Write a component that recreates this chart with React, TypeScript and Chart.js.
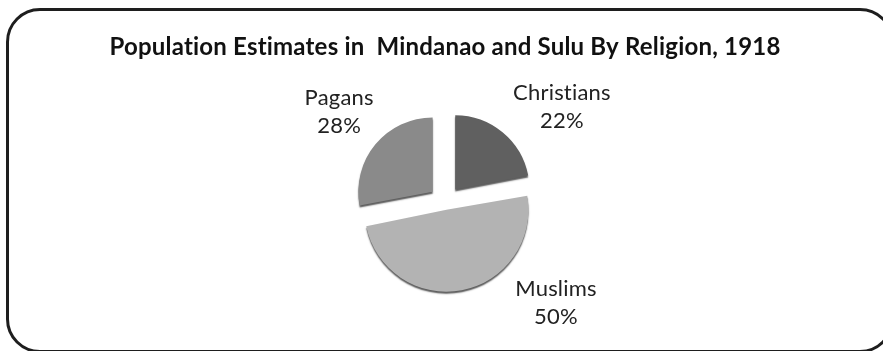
import React, { useEffect, useRef } from "react";
import { Chart, registerables } from "chart.js";

Chart.register(...registerables);

const TITLE = "Population Estimates in  Mindanao and Sulu By Religion, 1918";
const categories = ["Christians", "Muslims", "Pagans"];
const values = [22, 50, 28];
const percentLabels = ["22%", "50%", "28%"];
const sliceColors = ["#606060", "#b3b3b3", "#8a8a8a"];
// label anchor offsets, in units of the pie radius, from the pie centre
const labelAnchors = [
  [1.58, -1.28],
  [1.5, 1.36],
  [-1.43, -1.22],
];

const labelFont = '22px Lato, "Open Sans", sans-serif';

const shadowAndLabels = {
  id: "shadowAndLabels",
  beforeDraw(chart: any) {
    // disable ligatures (e.g. "ti") so text reads like the original
    (chart.ctx as any).letterSpacing = "0.2px";
  },
  beforeDatasetsDraw(chart: any) {
    const ctx = chart.ctx;
    ctx.save();
    ctx.shadowColor = "rgba(0,0,0,0.65)";
    ctx.shadowOffsetY = 2;
    ctx.shadowOffsetX = 0;
    ctx.shadowBlur = 1.5;
  },
  afterDatasetsDraw(chart: any) {
    const ctx = chart.ctx;
    ctx.restore();
    const meta = chart.getDatasetMeta(0);
    ctx.save();
    (ctx as any).letterSpacing = "0.2px";
    ctx.font = labelFont;
    ctx.fillStyle = "#222";
    ctx.textAlign = "center";
    ctx.textBaseline = "middle";
    meta.data.forEach((arc: any, i: number) => {
      const r = arc.outerRadius;
      const cx = arc.x + labelAnchors[i][0] * r;
      const cy = arc.y + labelAnchors[i][1] * r;
      ctx.fillText(categories[i], cx, cy - 14);
      ctx.fillText(percentLabels[i], cx, cy + 14);
    });
    ctx.restore();
  },
};

export default function App() {
  const ref = useRef<HTMLCanvasElement | null>(null);
  useEffect(() => {
    if (!ref.current) return;
    const chart = new Chart(ref.current, {
      type: "pie",
      data: {
        labels: categories,
        datasets: [
          {
            data: values,
            backgroundColor: sliceColors,
            borderWidth: 0,
            offset: [64, 32, 64],
          },
        ],
      },
      options: {
        animation: false,
        responsive: false,
        radius: 74,
        layout: { padding: { left: 7, right: 0, top: 0, bottom: 19 } },
        plugins: {
          legend: { display: false },
          tooltip: { enabled: false },
          title: {
            display: true,
            text: TITLE,
            color: "#111",
            font: { family: 'Lato, "Open Sans", sans-serif', size: 24, weight: "bold" },
            padding: { top: 33, bottom: 10 },
          },
        },
      } as any,
      plugins: [shadowAndLabels],
    });
    return () => chart.destroy();
  }, []);

  return (
    <div
      style={{
        position: "fixed",
        left: 0,
        top: 0,
        width: 883,
        height: 351,
        overflow: "hidden",
        background: "#fff",
      }}
    >
      <div
        style={{
          position: "absolute",
          left: 6,
          top: 8,
          width: 888,
          height: 345,
          boxSizing: "border-box",
          border: "3px solid #1e1e1e",
          borderRadius: 34,
        }}
      />
      <canvas
        ref={ref}
        width={883}
        height={351}
        style={{ position: "absolute", left: 0, top: 0, width: 883, height: 351 }}
      />
    </div>
  );
}
